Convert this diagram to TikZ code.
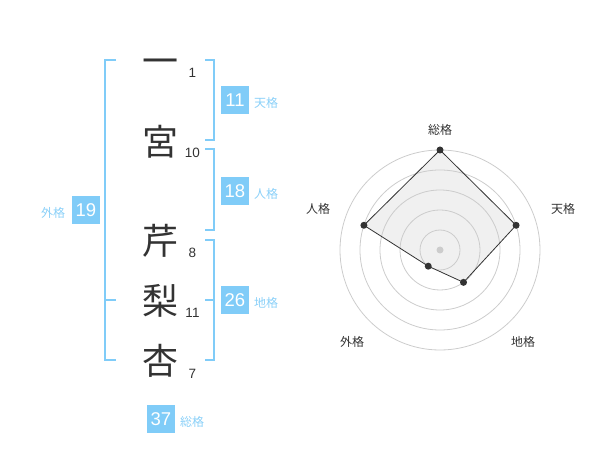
\documentclass[tikz,border=0pt]{standalone}
\usepackage{fontspec}
\usepackage{tikz}
\usepackage{xcolor}
\setmainfont{Liberation Sans}
\newfontfamily\jfont{Noto Sans CJK JP}
\definecolor{kakublue}{HTML}{80CCF8}
\definecolor{kakulabel}{HTML}{8AD0F8}
\definecolor{inkgray}{HTML}{333333}
\definecolor{ringgray}{HTML}{CCCCCC}
\tikzset{
    kanji/.style={anchor=base, inner sep=0pt, text=inkgray, font=\jfont\fontsize{36}{36}\selectfont},
    kakusu/.style={anchor=base, inner sep=0pt, text=inkgray, font=\fontsize{13.5}{14}\selectfont},
    kakubox/.style={fill=kakublue, text=white, minimum width=28, minimum height=28, inner sep=0pt, font=\fontsize{18.5}{19}\selectfont},
    kakuname/.style={inner sep=0pt, text=kakulabel, font=\jfont\fontsize{12}{12}\selectfont},
    bracket/.style={draw=kakublue, line width=2pt},
    ring/.style={draw=ringgray, line width=0.8pt},
    axisname/.style={inner sep=0pt, text=inkgray, font=\jfont\fontsize{12}{12}\selectfont},
    datadot/.style={circle, fill=inkgray, inner sep=0pt, minimum size=7}
}

\begin{document}
\begin{tikzpicture}[x=1pt, y=-1pt]
        \useasboundingbox (0,0) rectangle (600,470);
        % name and stroke counts
        \node[kanji] (ichi) at (160, 75) {一};
        \node[kanji] (miya) at (160, 155.5) {宮};
        \node[kanji] (seri) at (160, 254.5) {芹};
        \node[kanji] (nashi) at (160, 314.5) {梨};
        \node[kanji] (anzu) at (160, 374.5) {杏};
        \node[kakusu] (n1) at (192.5, 77.7) {1};
        \node[kakusu] (n2) at (192.5, 158) {10};
        \node[kakusu] (n3) at (192.5, 257.7) {8};
        \node[kakusu] (n4) at (192.5, 318) {11};
        \node[kakusu] (n5) at (192.5, 378) {7};
        % brackets
        \draw[bracket] (116, 60) -- (105, 60) -- (105, 360) -- (116, 360);
        \draw[bracket] (105, 300) -- (116, 300);
        \draw[bracket] (205, 60) -- (214, 60) -- (214, 140) -- (205, 140);
        \draw[bracket] (205, 149) -- (214, 149) -- (214, 230) -- (205, 230);
        \draw[bracket] (205, 240) -- (214, 240) -- (214, 360) -- (205, 360);
        \draw[bracket] (205, 300) -- (214, 300);
        % kaku values
        \node[kakubox] (tenbox) at (235, 100) {11};
        \node[kakuname] (tenname) at (266, 103) {天格};
        \node[kakubox] (jinbox) at (235, 191) {18};
        \node[kakuname] (jinname) at (266, 194) {人格};
        \node[kakubox] (chibox) at (235, 300) {26};
        \node[kakuname] (chiname) at (266, 303) {地格};
        \node[kakubox] (gaibox) at (86, 210) {19};
        \node[kakuname] (gainame) at (53, 213) {外格};
        \node[kakubox] (soubox) at (161, 419) {37};
        \node[kakuname] (souname) at (192, 422) {総格};
        % radar chart
        \begin{scope}[shift={(440, 250)}, yscale=-1]
            \coordinate (center) at (0, 0);
            \coordinate (sou) at (90:100);
            \coordinate (ten) at (18:80);
            \coordinate (chi) at (-54:40);
            \coordinate (gai) at (-126:20);
            \coordinate (jin) at (162:80);
            \fill[black!6] (sou) -- (ten) -- (chi) -- (gai) -- (jin) -- cycle;
            \foreach \r in {20, 40, 60, 80, 100}
                \draw[ring] (center) circle (\r);
            \fill[ringgray] (center) circle (3.5);
            \draw[inkgray, line width=0.8pt] (sou) -- (ten) -- (chi) -- (gai) -- (jin) -- cycle;
            \foreach \p in {sou, ten, chi, gai, jin}
                \node[datadot] at (\p) {};
            \node[axisname] (soulabel) at (0, 120) {総格};
            \node[axisname] (tenlabel) at (123, 41) {天格};
            \node[axisname] (jinlabel) at (-122, 41) {人格};
            \node[axisname] (gailabel) at (-88, -92) {外格};
            \node[axisname] (chilabel) at (83, -92) {地格};
        \end{scope}
    \end{tikzpicture}
\end{document}
